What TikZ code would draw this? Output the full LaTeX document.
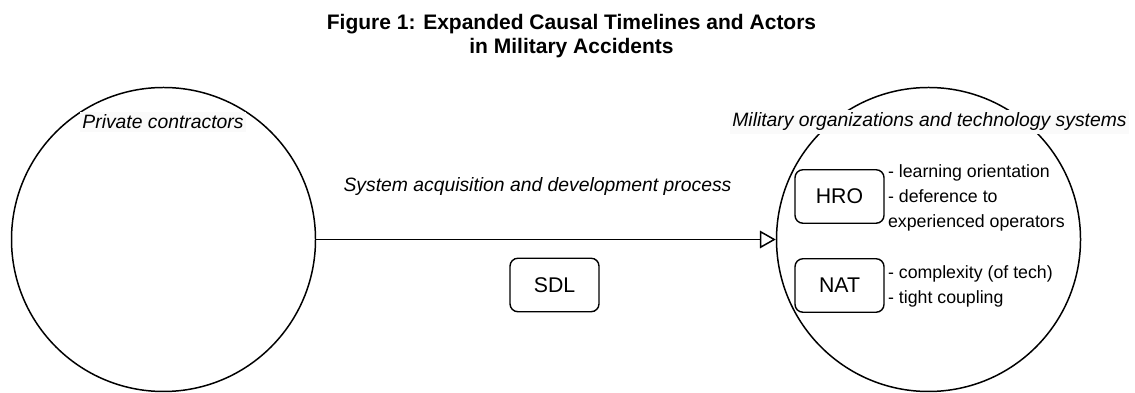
\documentclass[tikz,border=0pt]{standalone}
\usepackage{fontspec}
\setmainfont{Liberation Sans}
\usetikzlibrary{positioning, arrows.meta}

\begin{document}
\begin{tikzpicture}[
	actor circle/.style={draw, circle, line width=0.85pt, minimum size=6.08cm, inner sep=0pt},
	actor label/.style={font=\fontsize{11}{13}\selectfont\itshape, fill=black!2, inner sep=1.5pt},
	theory box/.style={draw, rounded corners=4.5pt, line width=0.8pt, minimum width=1.78cm, minimum height=1.07cm, font=\fontsize{12.1}{14}\selectfont},
	theory notes/.style={font=\fontsize{10.1}{14.4}\selectfont, align=left, inner sep=0pt},
	process arrow/.style={-{Triangle[open, length=9pt, width=10pt]}, line width=0.85pt},
	]
	\useasboundingbox (0,0) rectangle (22.7,7.86);
	
	% Title
	\node[font=\fontsize{11.95}{13.7}\selectfont\bfseries, align=center] (title) at (11.43, 7.13)
	{Figure 1: Expanded Causal Timelines and Actors\\in Military Accidents};
	
	% Actors
	\node[actor circle] (contractors) at (3.27, 3.07) {};
	\node[actor circle] (military) at (18.57, 3.07) {};
	\node[actor label] (contractors label) at (3.26, 5.42) {Private contractors};
	\node[actor label] (military label) at (18.59, 5.42) {Military organizations and technology systems};
	
	% Acquisition process between the actors
	\draw[process arrow] (contractors.east) -- (military.west);
	\node[font=\fontsize{11}{13}\selectfont\itshape] (process label) at (10.75, 4.12)
	{System acquisition and development process};
	\node[theory box] (sdl) at (11.09, 2.16) {SDL};
	
	% Theories inside the military circle
	\node[theory box] (hro) at (16.79, 3.93) {HRO};
	\node[theory box] (nat) at (16.79, 2.15) {NAT};
	\node[theory notes, anchor=west] (hro notes) at ([xshift=0.06cm, yshift=-0.03cm]hro.east)
	{- learning orientation\\- deference to\\experienced operators};
	\node[theory notes, anchor=west] (nat notes) at ([xshift=0.06cm, yshift=-0.02cm]nat.east)
	{- complexity (of tech)\\- tight coupling};
	
\end{tikzpicture}
\end{document}
